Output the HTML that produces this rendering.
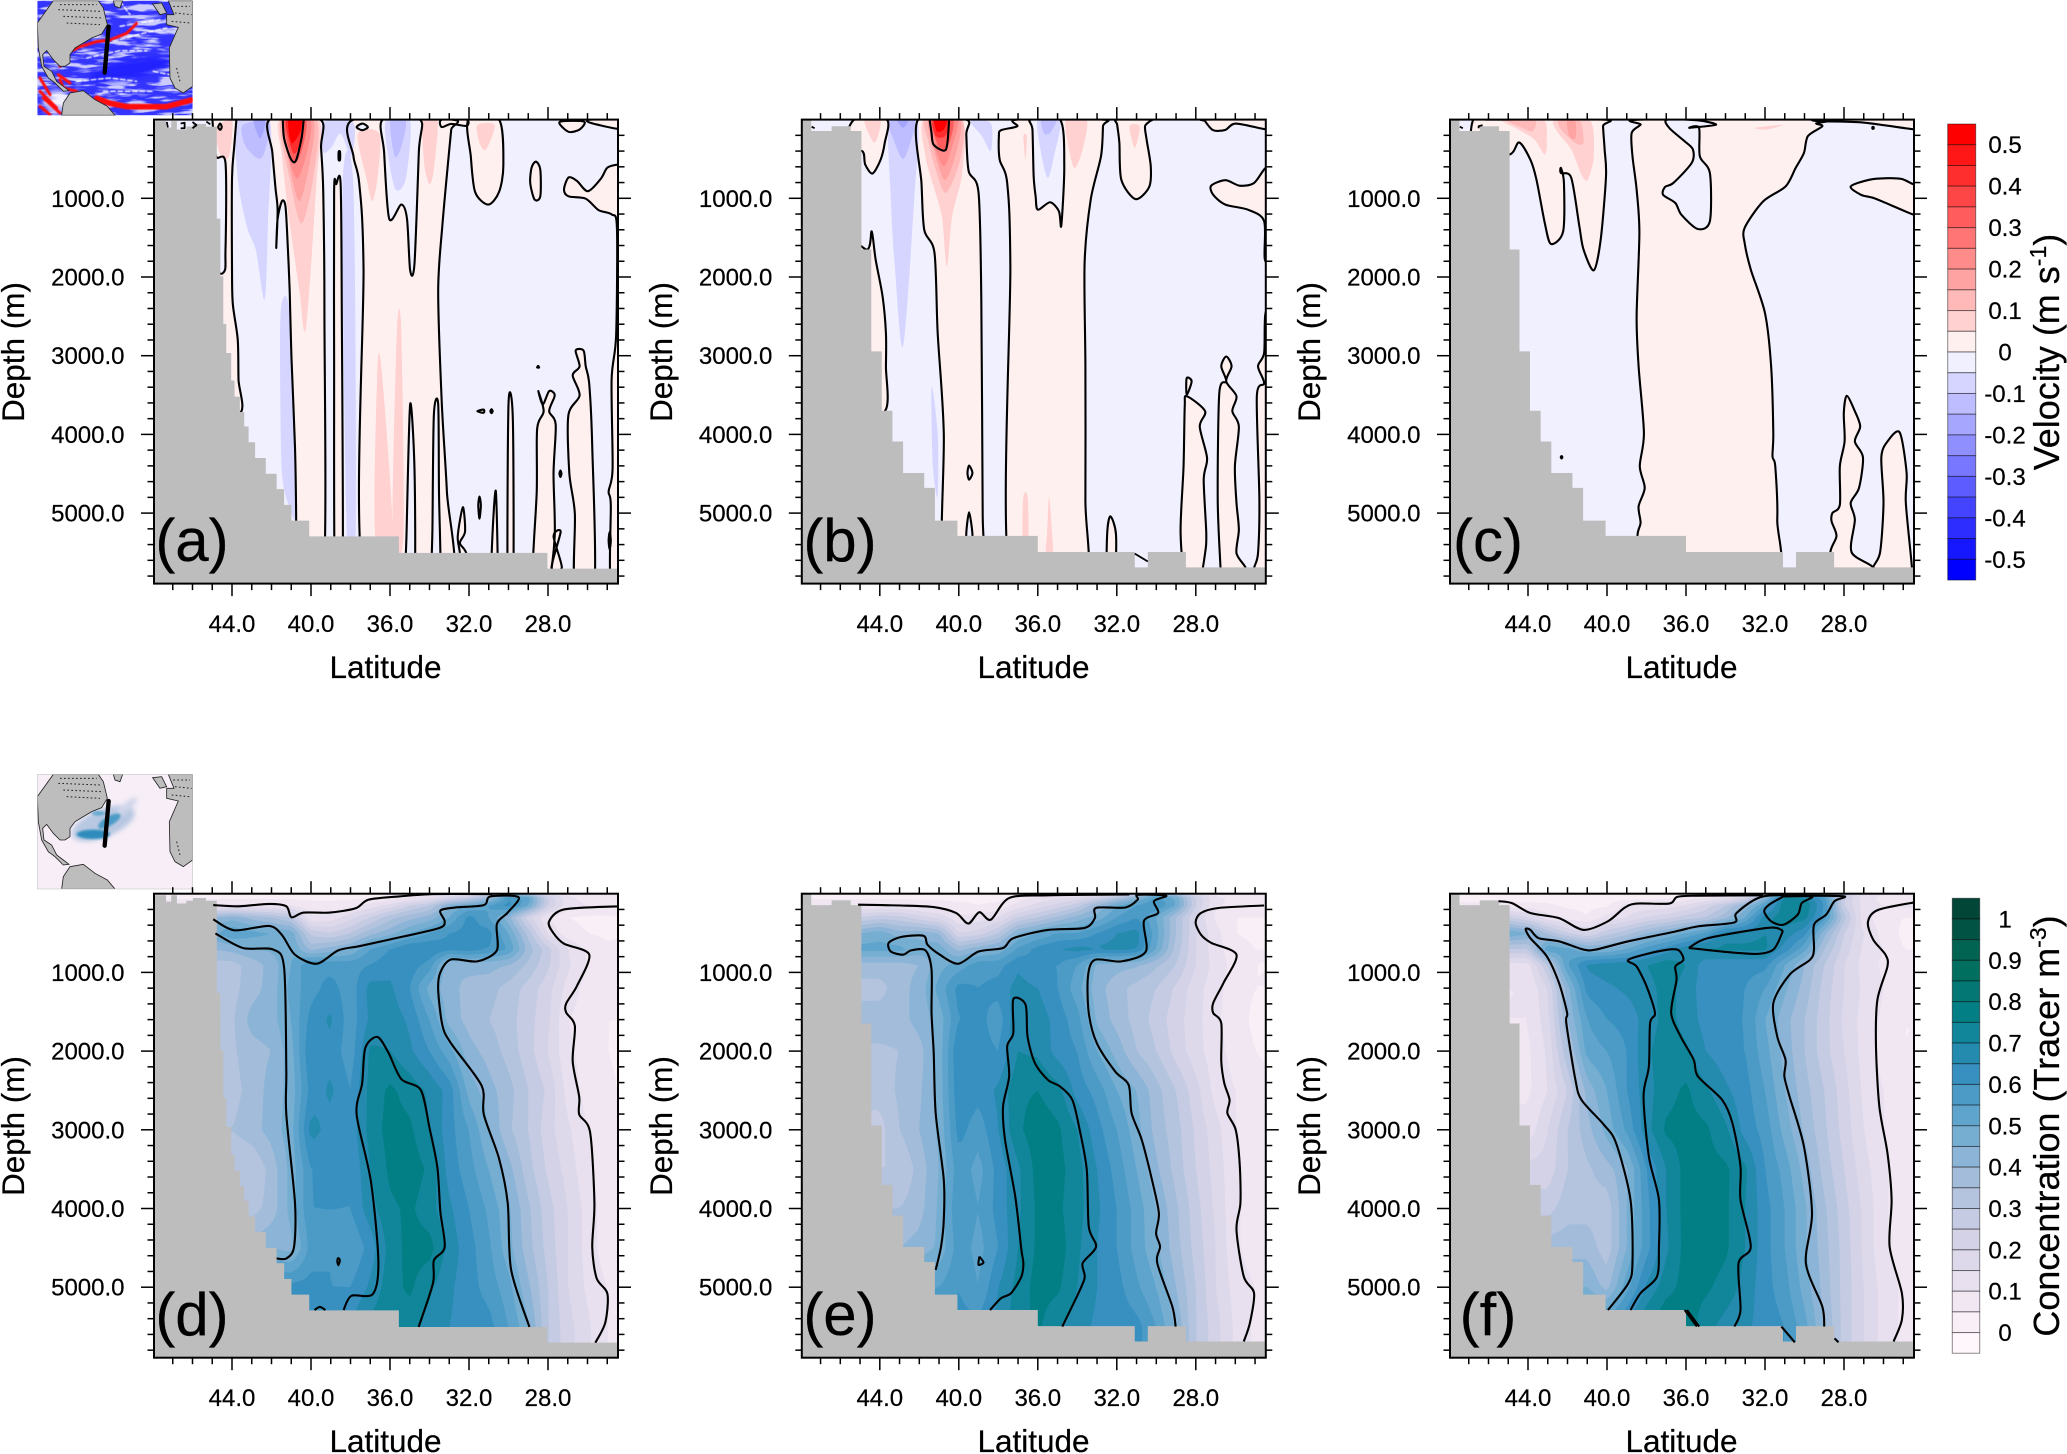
<!DOCTYPE html>
<html lang="en">
<head>
<meta charset="utf-8">
<title>Velocity and tracer concentration sections</title>
<style>
html,body{margin:0;padding:0;background:#fff;width:2067px;height:1454px;overflow:hidden}
svg{display:block}
text{font-family:"Liberation Sans",sans-serif;fill:#000;stroke:#000;stroke-width:.22}
</style>
</head>
<body>
<svg id="chart" width="2067" height="1454" viewBox="0 0 2067 1454">
<defs>
<filter id="blur-a" x="-30%" y="-30%" width="160%" height="160%"><feGaussianBlur stdDeviation="7"/></filter>
<filter id="blur-b" x="-30%" y="-30%" width="160%" height="160%"><feGaussianBlur stdDeviation="3"/></filter>
<filter id="blur-c" x="-5%" y="-5%" width="110%" height="110%"><feGaussianBlur stdDeviation="1.6"/></filter>
<filter id="streaks" x="0" y="0" width="100%" height="100%"><feTurbulence type="fractalNoise" baseFrequency="0.012 0.07" numOctaves="3" seed="4"/><feColorMatrix type="matrix" values="0 0 0 0 1  0 0 0 0 1  0 0 0 0 1  5 0 0 0 -2.3"/></filter>
<clipPath id="map-clip"><rect x="52" y="28" width="466" height="344"/></clipPath>
<g id="map-land">
<path d="M100,28 L235,28 L250,50 L262,100 L245,128 L215,140 L190,155 L165,170 L150,190 L150,215 L135,225 L120,225 L100,205 L80,178 L68,190 L72,225 L95,240 L110,270 L130,285 L147,298 L130,300 L105,275 L85,260 L65,225 L55,170 L52,95 Z"/>
<path d="M280,28 L308,28 L300,50 L285,45 Z"/>
<path d="M125,372 L130,335 L150,305 L190,298 L225,325 L262,345 L285,372 Z"/>
<path d="M445,28 L518,28 L518,285 L490,305 L465,290 L450,260 L448,170 L475,108 L440,100 L440,70 L462,70 Z"/>
<path d="M398,38 L425,35 L440,65 L420,70 Z"/>
<path d="M120,40 L230,40 M115,55 L240,60 M130,75 L250,80 M140,95 L240,100 M460,45 L510,45 M465,65 L515,70 M455,90 L510,95 M470,230 L480,270" fill="none" stroke="#222" stroke-width="3" stroke-dasharray="5 7"/>
</g>
</defs>

<g transform="translate(20,-8.67) scale(0.3333)">
<g clip-path="url(#map-clip)">
<rect x="52" y="28" width="466" height="344" fill="#3434ff"/>
<rect x="52" y="28" width="466" height="344" filter="url(#streaks)" opacity="0.75"/>
<g filter="url(#blur-a)">
<ellipse cx="330" cy="235" rx="125" ry="28" transform="rotate(-12 330 235)" fill="#2222ff"/>
<ellipse cx="110" cy="330" rx="40" ry="35" fill="#ffffff" opacity="0.7"/>
</g>
<g filter="url(#blur-c)">
<g fill="none" stroke="#fff" stroke-width="4" stroke-dasharray="14 8" stroke-linecap="round">
<path d="M200,200 L300,178 L380,178"/><path d="M280,150 L360,128 L440,110"/><path d="M300,105 L420,85"/>
<path d="M170,270 L270,260 L350,270"/><path d="M300,30 L330,70"/><path d="M400,240 L500,260"/><path d="M250,300 L400,300"/>
</g>
<g fill="none" stroke="#ff1010" stroke-linecap="round" stroke-linejoin="round">
<path d="M120,225 L140,186 L180,166 L230,151 L270,146 L320,126 L350,96" stroke-width="9"/>
<path d="M230,321 L270,336 L320,346 L440,346 L515,326" stroke-width="17"/>
<path d="M60,260 L90,310 M60,300 L110,350 M120,265 L130,290 L170,300 M70,320 L120,365 M60,345 L90,370 M115,250 L150,275" stroke-width="9"/>
</g>
</g>
<use href="#map-land" fill="#bdbdbd" stroke="#222" stroke-width="2.5"/>
<path d="M266,106 L254,244" stroke="#000" stroke-width="13" stroke-linecap="round"/>
</g>
</g>

<g transform="translate(20,765) scale(0.3333)">
<g clip-path="url(#map-clip)">
<rect x="52" y="28" width="466" height="344" fill="#f7eef7"/>
<g filter="url(#blur-a)">
<ellipse cx="250" cy="175" rx="100" ry="42" transform="rotate(-22 250 175)" fill="#b8c8e2"/>
<ellipse cx="320" cy="125" rx="40" ry="12" transform="rotate(-40 320 125)" fill="#d0d6ea"/>
</g>
<g filter="url(#blur-b)">
<ellipse cx="220" cy="208" rx="50" ry="14" fill="#2f8cbc"/>
<ellipse cx="268" cy="168" rx="38" ry="14" transform="rotate(-30 268 168)" fill="#4b9bc6"/>
<ellipse cx="235" cy="145" rx="20" ry="7" fill="#67a9cf"/>
</g>
<use href="#map-land" fill="#bdbdbd" stroke="#222" stroke-width="2.5"/>
<path d="M266,108 L254,242" stroke="#000" stroke-width="13" stroke-linecap="round"/>
</g>
<rect x="52" y="28" width="466" height="344" fill="none" stroke="#ccc" stroke-width="2"/>
</g>

<g id="plots"></g>

<g id="static-labels">
<text x="192" y="561" font-size="60" text-anchor="middle">(a)</text>
<text x="840" y="561" font-size="60" text-anchor="middle">(b)</text>
<text x="1488" y="561" font-size="60" text-anchor="middle">(c)</text>
<text x="192" y="1335" font-size="60" text-anchor="middle">(d)</text>
<text x="840" y="1335" font-size="60" text-anchor="middle">(e)</text>
<text x="1488" y="1335" font-size="60" text-anchor="middle">(f)</text>

<text transform="translate(24,352) rotate(-90)" font-size="31.5" text-anchor="middle">Depth (m)</text>
<text transform="translate(672,352) rotate(-90)" font-size="31.5" text-anchor="middle">Depth (m)</text>
<text transform="translate(1320,352) rotate(-90)" font-size="31.5" text-anchor="middle">Depth (m)</text>
<text transform="translate(24,1126) rotate(-90)" font-size="31.5" text-anchor="middle">Depth (m)</text>
<text transform="translate(672,1126) rotate(-90)" font-size="31.5" text-anchor="middle">Depth (m)</text>
<text transform="translate(1320,1126) rotate(-90)" font-size="31.5" text-anchor="middle">Depth (m)</text>

<text x="385.5" y="678" font-size="31.5" text-anchor="middle">Latitude</text>
<text x="1033.5" y="678" font-size="31.5" text-anchor="middle">Latitude</text>
<text x="1681.5" y="678" font-size="31.5" text-anchor="middle">Latitude</text>
<text x="385.5" y="1452" font-size="31.5" text-anchor="middle">Latitude</text>
<text x="1033.5" y="1452" font-size="31.5" text-anchor="middle">Latitude</text>
<text x="1681.5" y="1452" font-size="31.5" text-anchor="middle">Latitude</text>

<text transform="translate(2059,352) rotate(-90)" font-size="36" text-anchor="middle">Velocity (m s<tspan font-size="23" dy="-13">-1</tspan><tspan dy="13">)</tspan></text>
<text transform="translate(2059,1126) rotate(-90)" font-size="36" text-anchor="middle">Concentration (Tracer m<tspan font-size="23" dy="-13">-3</tspan><tspan dy="13">)</tspan></text>
</g>
</svg>

<script>
/* ---------- axis values ---------- */
const latTicks = [44, 40, 36, 32, 28];
const latTickLabels = ['44.0', '40.0', '36.0', '32.0', '28.0'];
const latMinorTicks = [47, 46, 45, 43, 42, 41, 39, 38, 37, 35, 34, 33, 31, 30, 29, 27, 26, 25];
const depthTicks = [1000, 2000, 3000, 4000, 5000];
const depthTickLabels = ['1000.0', '2000.0', '3000.0', '4000.0', '5000.0'];
const depthMinorTicks = [200, 400, 600, 800, 1200, 1400, 1600, 1800, 2200, 2400, 2600, 2800, 3200, 3400, 3600, 3800, 4200, 4400, 4600, 4800, 5200, 5400, 5600, 5800];

/* ---------- colour bars ---------- */
const velocityColors = ['#0000ff','#1717ff','#2d2dff','#4444ff','#5c5cff','#7777ff','#8f8fff','#a6a6ff','#bdbdff','#d5d5ff','#f0f0ff','#fff0f0','#ffd1d1','#ffb9b9','#ffa2a2','#ff8b8b','#ff7474','#ff5d5d','#ff4646','#ff2e2e','#ff1717','#ff0000'];
const velocityBarValues = [0.5, 0.4, 0.3, 0.2, 0.1, 0, -0.1, -0.2, -0.3, -0.4, -0.5];
const velocityBarLabels = ['0.5', '0.4', '0.3', '0.2', '0.1', '0', '-0.1', '-0.2', '-0.3', '-0.4', '-0.5'];
const tracerColors = ['#fff7fb','#f8eff7','#f1e7f3','#e8e0ef','#ddd9eb','#d3d2e7','#c4cbe3','#b4c4df','#a3bcda','#8bb4d6','#76aed2','#5ea4cc','#4b9bc6','#3790c0','#258bae','#11859a','#027f85','#027773','#016f60','#016351','#015443','#014636'];
const tracerBarValues = [1, 0.9, 0.8, 0.7, 0.6, 0.5, 0.4, 0.3, 0.2, 0.1, 0];
const tracerBarLabels = ['1', '0.9', '0.8', '0.7', '0.6', '0.5', '0.4', '0.3', '0.2', '0.1', '0'];

/* ---------- land masks: latitude edges and the depth of each stair ---------- */
const landTopLatAD = [47.34, 47.08, 46.79, 46.31, 45.98, 45.32, 44.77];
const landTopDepAD = [20, 100, 20, 125, 90, 55, 90];
const landLatAD = [44.77, 44.59, 44.44, 44.29, 44.04, 43.87, 43.6, 43.38, 43.16, 42.83, 42.29, 41.74, 41.36, 40.99, 40.09, 35.55, 28.03, 24];
const landDepAD = [1260, 1990, 2595, 2965, 3315, 3520, 3715, 3900, 4100, 4300, 4500, 4695, 4895, 5095, 5295, 5505, 5705, 5705];
const landTopLatOther = [47.47, 46.44, 45.47, 44.93];
const landTopDepOther = [0, 145, 85, 145];
const landLatOther = [44.93, 44.43, 43.9, 43.36, 42.82, 41.75, 41.21, 40.07, 36.0, 31.09, 30.43, 28.5, 24];
const landDepOther = [1650, 2945, 3700, 4090, 4490, 4680, 5095, 5290, 5495, 5690, 5495, 5690, 5690];

/* ---------- velocity panels: zero contours (lat, depth pairs) ---------- */
const zeroPosA = [
[43.78,0,43.78,10,43.89,350,44,750,44,1890,43.96,2340,43.71,2795,43.67,3305,43.6,3730,45.87,3730,45.87,1955,44.48,1955,44.33,1660,44.33,550,44.81,465,44.99,10,44.99,0],
[42.09,0,41.96,410,41.8,865,41.69,1150,41.76,1630,41.69,1260,41.47,1035,41.3,1090,41.21,1430,41.08,2170,40.99,3020,40.81,4160,40.75,5095,40.75,5900,39.38,5900,39.32,2455,39.38,920,39.49,350,39.54,0],
[38.79,5900,38.83,3020,38.83,920,38.72,820,38.5,820,38.44,2455,38.4,5900],
[37.85,0,37.85,465,37.56,805,37.34,1885,37.29,5900,32.97,5900,33.12,4725,33.38,3590,33.56,2170,33.34,1320,33.01,410,32.9,125,32.86,0],
[32.02,0,31.91,465,31.69,920,31.03,1080,30.48,920,30.26,580,30.48,0],
[33.38,95,32.9,55,32.13,80,32.13,0,33.38,0],
[28.61,535,28.39,635,28.39,975,28.68,1015,28.9,805,28.83,610],
[24.44,570,24.99,610,25.32,750,25.98,910,26.53,780,26.96,735,27.19,890,26.96,975,26.09,1005,25.44,1150,24.78,1205,24.51,1375,24.55,2740,24.78,3305,24.73,4440,24.93,4725,24.82,4895,24.82,5900,24,5900,24,570],
[27.41,30,26.96,155,26.4,125,26.18,25],
[25.86,40,24.55,115,24,120,24,0,25.86,0],
[32.46,5520,32.57,5295,32.31,4925,32.2,5235,32.46,5380,32.13,5520,32.13,5900,32.46,5900],
[30.86,5900,30.81,5265,30.64,4725,30.55,5900],
[30,3618,29.78,3815,29.76,5900,30.04,5900],
[28.49,3450,28.27,3620,27.94,3450,27.66,3505,27.94,3705,27.61,3875,27.72,4495,27.66,5295,28,5900,28.77,5900,28.57,4725,28.55,3930,28.22,3705],
[27.72,5295,27.3,5690,27.82,5690,27.36,5240],
[26.6,2935,26.2,2935,26.09,3135,25.91,3365,25.76,4160,25.65,5900,26.64,5900,26.64,5010,26.92,4495,26.97,3760,26.4,3505,26.75,3250,26.4,3135],
[31.58,3705,31.26,3685,31.26,3725],
[30.92,3705,30.86,3680,30.8,3705,30.86,3730],
[27.42,4500,27.37,4460,27.32,4500,27.37,4540],
[31.53,4900,31.47,4790,31.4,4900,31.47,5070],
[24.93,5350,24.88,5240,24.82,5350,24.88,5460],
[28.55,3150,28.5,3130,28.45,3150],
[44.7,95,44.6,50,44.52,95,44.6,130]
];
const zeroNegA = [
[36.37,0,36.3,410,36.04,1260,35.43,1080,35.14,1260,34.98,1915,34.76,1830,34.54,410,34.48,0],
[34.98,3618,35.16,5235,35.21,5900,34.76,5900,34.76,4440],
[33.56,3618,33.78,3760,33.85,5180,33.89,5900,33.45,5900,33.52,4725],
[37.69,95,37.4,50,37.12,95,37.4,135],
[38.6,410,38.53,410,38.53,510,38.6,510]
];
const bandsA = [
[-0.07,[43.71,0,42.09,0,42.18,1320,42.35,2285,42.79,1660,43.23,1375,43.71,750]],
[-0.12,[43.45,70,42.13,40,42.35,410,42.68,495,43.34,325]],
[-0.17,[42.9,10,42.31,10,42.57,240]],
[-0.07,[41.54,2455,41.08,2455,40.75,4725,40.81,5095,41.36,4695,41.52,4160]],
[-0.07,[39.38,40,37.85,40,37.96,465,38.5,180,38.95,350,39.38,410]],
[-0.07,[38.4,865,37.85,865,37.74,5295,38.18,5295]],
[-0.07,[36.2,10,34.99,10,35.2,750,35.71,890,36.09,465]],
[-0.12,[35.98,10,35.2,10,35.43,350,35.76,465]],
[0.07,[44.84,125,44,10,44.15,465,44.55,465]],
[0.07,[37.63,180,36.53,180,36.64,750,36.9,1035,37.19,750]],
[0.07,[34.33,10,33.6,10,33.78,635,34,820,34.26,580]],
[0.07,[31.58,70,30.7,70,31.14,380,31.47,295]],
[0.07,[36.64,3190,36.42,3190,35.87,5295,36.75,5295]],
[0.07,[35.65,2680,35.43,2680,35.32,5295,35.87,5295]],
[0.07,[41.58,0,39.6,0,39.71,750,40.26,2650,40.59,2170,41.14,1205,41.47,465]],
[0.12,[41.52,0,39.71,0,39.89,750,40.48,1320,41.08,750]],
[0.17,[41.43,0,39.89,0,40.04,520,40.59,1035,41.14,520]],
[0.22,[41.36,0,40.04,0,40.2,410,40.7,750,41.21,410]],
[0.32,[41.32,0,40.26,0,40.42,350,40.81,550,41.21,295]],
[0.42,[41.25,0,40.37,0,40.55,295,40.86,435,41.14,240]],
[0.5,[41.14,0,40.48,0,40.59,180,40.99,295]]
];
const linesA = [
[41.43,0,41.36,240,41.03,495,40.77,525,40.48,240,40.37,0]
];
const overA = [
[47.3,30,47.25,100],
[46.6,50,46.4,40,46.4,110,46.6,110],
[46,30,45.8,70,46,110],
[45.3,25,45.1,60]
];

const zeroPosB = [
[45.3,0,43.65,0,43.75,295,43.96,510,44.37,685,44.74,570,44.89,400,45.82,400],
[44.41,1420,44.21,1780,43.86,2245,43.69,2710,43.69,3135,43.75,3705,45.82,3705,45.82,1650,44.62,1650],
[42.06,0,41.89,805,41.75,1400,41.23,1695,41.07,2710,40.76,3985,40.76,5890,38.73,5890,38.79,5040,38.86,2290,39,930,39.5,655,39.62,190,39.62,0],
[37.04,0,37.04,85,37.86,135,37.97,210,37.93,510,37.55,805,37.39,1865,37.39,5890,33.67,5890,33.59,4830,33.59,3135,33.63,1820,33.32,1015,32.8,465,32.7,85,32.7,0],
[31.98,65,31.87,295,31.77,765,31.05,1010,30.36,855,30.28,595,30.49,255,30.57,85,30.32,20,30.32,0,31.98,0],
[27.53,20,27.12,135,26.5,130,25.98,50,24.54,120,24,120,24,0,27.53,0],
[24.47,615,25.05,805,25.78,840,26.5,770,27.22,840,27.12,955,26.5,1080,25.36,1145,24.54,1290,24.5,1780,24,1780,24,615],
[28.46,3285,28.21,3325,28.46,3495],
[28.46,3515,27.53,3705,27.8,3900,27.43,4300,27.6,4575,27.47,5255,27.53,5510,27.84,5890,28.5,5890,28.77,5255,28.62,4405,28.56,3645],
[26.46,3010,26.19,3135,26.46,3325,25.94,3515,26.15,3705,25.82,3900,26.02,4405,25.94,4870,25.82,5210,25.94,5510,25.47,5700,25.47,5890,26.75,5890,26.75,5700,26.89,4830,26.81,3475,26.46,3325,26.71,3135],
[24.47,2460,24.54,2965,24.85,3135,24.54,3350,24.91,3515,24.78,4830,24.85,5510,25.05,5700,25.05,5890,24,5890,24,2460],
[32.49,5890,32.49,5275,32.33,5040,32.04,5275,32.12,5890]
];
const zeroNegB = [
[36.36,0,36.27,130,36.21,720,36.11,975,36,1145,35.38,1050,34.93,1165,34.81,1345,34.66,590,34.87,0],
[39.62,5300,39.48,4990,39.31,5300],
[39.48,4395,39.31,4490,39.48,4575,39.56,4490]
];
const bandsB = [
[-0.07,[43.5,0,42.1,0,42.26,1015,42.82,2880,43.24,1865,43.44,1015]],
[-0.12,[43.55,0,42.26,0,42.41,255,42.82,500,43.3,255]],
[-0.17,[43.13,0,42.55,0,42.82,105]],
[-0.07,[39.41,20,38.38,45,38.38,400,38.83,210]],
[-0.07,[36,0,34.87,0,35.18,465,35.49,740,35.8,465]],
[-0.12,[35.8,0,35.07,0,35.38,170,35.69,170]],
[-0.07,[41.38,3390,41.07,3985,41.07,4790,41.31,4405]],
[0.07,[44.79,0,43.96,0,44.27,295]],
[0.07,[34.56,0,33.52,0,33.73,380,34.14,615,34.45,340]],
[0.07,[31.36,85,30.84,85,31.09,360]],
[0.07,[36.73,4790,36.52,4790,36.48,5300,36.77,5300]],
[0.07,[35.43,4790,35.28,5255,35.24,5495,35.59,5495,35.53,5255]],
[0.07,[36.73,210,36.56,210,36.62,510]],
[0.07,[41.79,0,39.83,0,39.83,680,40.34,1230,40.61,1865,40.86,1230,41.38,765,41.69,465]],
[0.12,[41.69,0,39.83,0,39.93,510,40.65,930,41.17,635,41.52,295]],
[0.17,[41.52,0,39.93,0,40.14,425,40.69,765,41.17,465]],
[0.22,[41.44,0,40.07,0,40.34,340,40.76,595,41.23,340]],
[0.32,[41.38,0,40.28,0,40.55,340,40.96,380]],
[0.42,[41.31,0,40.45,0,40.69,210,41.17,210]],
[0.5,[41.23,0,40.61,0,40.76,125,41.11,150]]
];
const linesB = [
[41.48,0,41.38,170,41.27,320,40.65,380,40.49,0]
];
const overB = [
[31.09,5515,30.43,5615],
[47.45,90,47.3,110]
];

const zeroPosC = [
[45.94,0,40.16,0,40.2,85,40.12,380,40.05,720,40.32,1525,40.67,1915,41.19,1650,41.4,1355,41.81,740,42.33,680,42.33,615,42.18,805,42.22,1420,42.84,1580,43.15,1315,43.57,765,43.88,510,44.45,290,44.95,445,46.77,445,46.77,0],
[38.3,0,38.3,65,38.75,170,38.71,465,38.5,890,38.36,1440,38.5,2500,38.4,3135,38.13,3985,38.34,4405,38.09,4680,38.4,4915,38.3,5125,38.46,5295,38.46,5890,31.69,5890,31.38,5085,31.48,4405,31.62,4280,31.58,3985,31.69,3135,32,2460,32.72,1905,33.03,1570,33.03,1375,32.1,1040,30.96,850,30.45,615,30.03,425,29.83,210,29.1,85,29.41,50,29.21,0],
[29.21,20,27.14,35,24.45,125,24,125,24,0,29.21,0],
[27.66,850,26.73,765,25.8,745,25.07,755,24.45,825,24,825,24,1210,24.45,1210,25.69,1080,26.52,995,27.14,955],
[27.86,3510,27.45,3705,27.18,3900,27.45,4090,27.04,4290,27.24,4680,27.66,4870,27.45,5085,27.62,5495,26.52,5690,26.52,5890,28.69,5890,28.69,5495,28.38,5290,28.63,5105,28.59,5000,28.21,4895,28.21,4405,27.97,4090,28.01,3730],
[26.52,5690,26.17,5495,26,4870,26.11,4290,25.8,4090,25.18,3975,24.83,4490,24.87,4870,24.56,5690,24.56,5890,26.52,5890],
[42.3,4275,42.26,4290,42.3,4305,42.34,4290],
[26.56,95,26.5,95,26.5,115,26.56,115]
];
const zeroNegC = [
[36.95,0,36.85,105,36.07,275,35.65,380,35.71,550,36.64,805,37.06,855,37.16,955,36.54,1060,36.23,1210,35.4,1390,34.79,1290,34.79,680,35.3,465,35.34,105,35.82,105,34.48,65,35.4,10]
];
const bandsC = [
[0.07,[45.32,0,43.26,0,43.05,255,43.15,445,43.67,255,44.5,125]],
[0.07,[42.64,0,40.88,0,40.67,465,40.98,765,41.29,700,41.81,380,42.53,150]],
[0.07,[32.51,105,31.07,65,31.89,125]],
[0.12,[45.12,0,43.67,0,43.77,150,44.29,105]],
[0.12,[42.43,0,41.4,0,41.19,295,41.6,295,42.33,125]],
[0.17,[42.02,20,41.6,20,41.6,235,41.91,210]]
];
const linesC = [];
const overC = [
[47.45,90,47.3,110],
[46.5,110,46.5,85,46.3,70]
];

/* ---------- tracer fields: percent of unit concentration on a lat-depth grid ---------- */
const fieldLats = [48,47,46,45,44,43,42,41,40,39,38,37,36,35,34,33,32,31,30,29,28,27,26,25,24];
const fieldDepths = [0,60,150,300,500,700,900,1200,1600,2000,2500,3000,3500,4000,4500,5000,5500,5900];
const fieldD = [
[3,3,3,3,3,3,3,3,3,3,3,3,4,6,8,10,12,25,45,35,18,8,6,6,6],
[4,4,4,4,4,4,4,4,4,4,4,5,7,10,15,22,30,40,60,55,25,12,8,7,7],
[10,10,10,11,11,11,11,10,7,7,8,12,17,25,30,45,50,55,62,50,25,12,10,10,10],
[40,40,40,40,43,38,35,30,10,12,18,25,33,38,42,50,62,55,42,22,10,5,4,4,5],
[48,48,48,48,55,52,50,48,28,25,30,38,43,50,55,60,62,62,50,33,14,7,5,4,5],
[40,40,40,40,42,45,46,50,38,42,45,55,60,65,65,62,63,60,55,38,27,15,9,6,6],
[33,33,33,33,33,37,42,50,60,58,58,60,63,63,58,40,42,42,40,34,26,16,10,5,5],
[30,30,30,30,33,38,42,52,58,62,57,67,66,60,48,42,38,37,33,28,22,13,8,6,5],
[30,30,30,30,34,42,43,50,62,66,57,66,68,64,55,43,38,35,32,27,21,10,8,5,5],
[30,30,30,30,34,38,40,48,65,63,57,71,70,66,60,52,42,38,33,27,20,11,8,5,4],
[30,30,30,30,33,37,42,47,62,66,60,72,76,73,69,63,48,42,37,30,24,13,8,6,4],
[35,35,35,35,35,38,42,48,67,63,62,72,77,76,70,62,55,45,36,30,22,16,10,7,5],
[30,30,30,30,30,30,37,47,60,63,60,70,76,78,74,63,57,50,42,32,24,18,11,7,5],
[33,33,33,33,33,33,37,47,60,60,60,68,74,76,72,66,60,54,46,36,27,20,13,7,5],
[42,42,42,42,42,42,45,43,57,60,55,62,72,77,77,68,62,56,47,37,28,20,13,7,5],
[62,62,62,62,62,62,62,62,62,60,60,66,73,76,71,66,62,58,52,41,30,20,14,10,6],
[62,62,62,62,62,62,62,62,62,62,66,72,74,72,68,65,63,62,55,46,30,22,16,10,7],
[62,62,62,62,62,62,62,62,62,62,66,72,74,72,68,65,63,62,55,46,30,22,16,10,7]
];
const fieldE = [
[3,3,3,3,3,3,3,3,3,3,3,3,5,7,8,10,14,30,45,35,18,8,6,6,6],
[4,4,4,4,4,4,4,4,4,4,4,8,12,15,18,25,35,45,58,50,25,12,8,7,7],
[10,10,10,10,10,10,9,8,6,5,6,12,17,22,28,40,50,55,60,50,25,10,10,10,10],
[25,25,25,25,28,27,22,18,11,12,15,25,30,36,42,47,55,60,50,35,20,9,5,5,5],
[45,45,45,45,48,42,43,40,20,22,30,45,50,55,55,60,65,67,52,35,20,12,5,4,4],
[52,52,52,52,52,52,48,48,38,43,46,56,62,65,67,66,67,66,50,33,20,12,7,5,5],
[38,38,38,38,38,38,40,48,52,58,58,64,60,60,55,44,42,41,36,30,20,13,8,5,5],
[33,33,33,33,33,38,42,52,62,60,62,67,65,60,52,42,37,33,30,24,17,12,7,5,5],
[38,38,38,38,38,38,42,47,60,62,57,70,68,63,57,44,38,33,28,22,17,11,7,4,4],
[34,34,34,34,34,35,38,47,65,62,60,70,69,63,60,50,43,35,30,23,17,12,8,5,4],
[32,32,32,32,32,36,39,47,64,62,66,74,75,72,63,58,50,45,37,30,22,13,10,7,5],
[28,28,28,28,28,35,40,46,62,57,65,74,78,76,70,62,55,47,38,32,24,17,10,7,5],
[30,30,30,30,30,30,37,45,58,53,62,69,77,77,72,65,58,50,41,33,25,18,11,7,5],
[35,35,35,35,35,35,38,46,60,55,62,69,76,76,72,66,60,53,45,36,27,19,11,7,5],
[40,40,40,40,40,40,42,46,58,53,60,70,76,78,71,65,60,53,46,37,28,20,11,7,5],
[55,55,55,55,55,55,55,55,60,55,65,72,77,76,70,65,62,56,50,40,30,20,13,10,7],
[62,62,62,62,62,62,62,62,62,62,67,73,76,71,67,64,63,62,55,44,30,22,14,9,7],
[62,62,62,62,62,62,62,62,62,62,67,73,76,71,67,64,63,62,55,44,30,22,14,9,7]
];
const fieldF = [
[2,2,2,2,2,2,2,2,2,2,2,2,4,6,8,12,25,55,55,45,30,14,10,9,9],
[3,3,3,3,3,3,3,3,3,3,3,4,7,10,14,22,45,74,72,58,25,12,8,7,8],
[7,7,7,7,7,6,4,4,4,12,12,12,16,22,30,42,55,74,74,60,25,13,10,11,12],
[25,25,25,25,20,12,8,5,12,15,20,23,27,30,38,50,68,73,72,58,32,12,7,5,5],
[50,50,50,50,46,34,25,20,28,33,40,45,50,56,68,68,70,68,62,42,25,15,8,4,4],
[30,30,30,30,30,55,52,45,45,50,57,62,68,71,71,71,71,63,52,35,23,14,10,5,5],
[13,13,13,13,13,30,55,66,68,68,70,73,70,62,62,62,62,50,40,30,20,13,9,5,5],
[10,10,10,10,10,20,43,62,64,66,68,72,68,62,62,60,55,46,38,28,20,14,10,6,5],
[10,10,10,10,10,18,40,55,60,62,67,72,68,63,60,60,50,42,35,27,19,13,9,5,5],
[9,9,9,9,9,16,34,52,55,60,69,73,71,65,62,60,52,43,35,27,20,13,8,5,5],
[9,9,9,9,9,15,25,42,50,60,68,73,76,71,66,62,55,45,37,30,22,14,10,7,5],
[12,12,12,12,12,20,30,38,47,56,68,76,77,76,71,63,58,48,39,31,23,15,10,7,5],
[22,22,22,22,22,22,30,34,38,44,60,70,77,77,76,71,60,53,43,33,25,17,11,7,5],
[28,28,28,28,28,28,33,33,32,45,58,70,77,78,76,70,62,55,46,36,27,19,11,7,5],
[38,38,38,38,38,38,38,38,32,45,58,69,77,78,76,70,62,55,46,37,28,19,11,7,5],
[45,45,45,45,45,45,45,45,38,53,66,73,77,76,73,68,62,57,48,38,28,20,13,9,6],
[60,60,60,60,60,60,60,60,60,67,75,80,78,72,68,66,63,60,52,40,28,20,13,9,7],
[60,60,60,60,60,60,60,60,60,67,75,80,78,72,68,66,63,60,52,40,28,20,13,9,7]
];

/* ---------- tracer contour lines (lat, depth pairs) ---------- */
const contoursD = [
[44.95,145,43.67,160,42.13,130,41.25,160,40.99,300,40.37,240,39.05,240,37.74,185,37.08,75,35.54,35,33.78,5,30.81,5],
[44.95,325,43.89,465,42.13,410,41.47,525,40.81,775,39.71,890,38.62,720,37.52,665,35.98,580,33.56,440,33.23,355,33.45,215,32.68,175,31.25,145,30.92,35,29.49,45,30.04,240,30.59,385,30.59,720,31.58,860,32.9,835,33.45,1000,33.56,1225,33.34,1680,32.9,1905,31.36,2440,31.25,2805,30.48,3365,30.04,3930,29.87,4775,28.94,5505],
[44.84,505,43.45,690,41.91,710,41.36,945,41.25,2240,41.25,2805,40.81,3930,40.86,4490,41.25,4635,41.74,4635],
[38.35,5290,37.96,5110,36.86,5085,36.59,4660,36.97,3650,37.69,2805,37.41,2410,37.25,1960,36.64,1820,36.09,2015,35.43,2355,34.44,2495,34,2975,33.6,3480,33.45,4040,33.23,4490,33.78,4660,33.82,4945,34.55,5505],
[24.44,160,27.19,200,27.95,355,27.74,495,27.19,635,25.91,775,26.53,1170,27.08,1395,27.08,1510,26.64,1680,26.75,2130,26.42,2580,26.42,2805,25.87,3030,25.65,3930,25.76,4490,25.54,4885,24.99,5085,25.1,5450,25.6,5705],
[38.68,4660,38.62,4630,38.54,4660,38.62,4720,38.68,4660],
[39.82,5290,39.55,5250,39.27,5290]
];
const contoursE = [
[45.1,140,42.93,150,41.27,170,40.14,245,39.52,380,38.96,235,38.38,330,37.45,55,35.49,20,31.36,10],
[41.17,4780,40.9,4485,40.76,4145,40.76,3635,41.17,2790,41.27,2025,41.38,1515,41.38,965,41.69,720,42.41,720,42.82,775,43.44,735,43.55,625,42.93,550,41.79,535,41.58,650,40.96,775,40.03,890,39,735,37.76,690,37.24,565,35.49,460,33.63,435,33.11,310,33.05,180,31.56,175,30.94,75,30.94,15,29.5,25,30.12,95,29.91,245,30.63,350,30.53,735,31.77,860,33.11,840,33.46,1050,33.42,1515,33.01,1900,32.08,2260,31.4,2430,31.25,2790,30.74,3125,30.22,3635,29.87,4060,30.01,4315,29.81,4485,29.95,4695,29.19,5245,29.02,5500],
[38.42,5290,37.86,5140,37.35,5075,36.83,4865,36.73,4695,36.83,4525,37.14,3850,37.66,3125,37.76,2705,37.45,2320,37.55,1940,37.24,1770,37.24,1340,36.62,1410,36.52,1815,36.15,2150,35.49,2365,34.87,2450,34.25,2620,33.88,3000,33.52,3510,33.42,4230,33.05,4485,33.73,4695,33.63,4885,34.14,5180,34.76,5500],
[24.54,150,26.81,180,27.74,245,28.01,365,27.74,520,27.22,625,25.94,775,26.6,1135,27.12,1390,27.12,1515,26.71,1645,26.71,2130,26.56,2405,26.29,2620,26.4,2790,25.98,3000,25.78,3425,25.74,3930,25.94,4270,25.57,4865,25.05,5075,25.26,5455,25.57,5690],
[38.96,4610,38.75,4685,39,4715,38.96,4610]
];
const contoursF = [
[45.49,95,44.81,120,43.88,245,42.43,310,41.19,460,39.95,350,39.12,180,38.5,125,36.85,125,36.44,40,35.4,25,32.1,20],
[39.95,5290,38.92,4950,38.71,4695,38.81,3890,39.54,3170,40.16,2935,41.29,2620,41.6,2365,42.06,1645,42.02,1515,42.43,1135,43.05,795,43.88,565,44.12,450,43.88,460,43.46,565,42.43,605,41.19,710,40.57,710,38.92,605,36.54,480,35.4,415,33.55,365,33.44,245,32.1,35,29.62,25,27.97,35,28.48,95,28.9,265,29.52,395,29.52,710,29.72,840,30.76,1030,31.58,1390,31.38,1815,30.96,2110,31.02,2320,30.76,2575,30.03,3210,29.62,4060,29.93,4695,29.1,5245,29,5500],
[38.81,5290,38.3,5075,37.47,4865,37.37,4485,37.37,3890,37.88,3340,38.15,2575,37.88,2195,37.82,1645,37.57,1515,37.99,1180,38.5,925,38.92,840,37.47,735,36.44,710,36.13,840,36.54,925,36.48,1095,36.75,1515,36.27,1815,35.61,2110,35.4,2320,34.17,2620,33.65,2915,33.24,3465,33.24,3890,32.72,4485,33.34,4695,33.24,5290,33.55,5500],
[35.86,690,34.89,565,31.89,435,31.17,460,31.17,520,31.58,710,32.41,765,34.17,735,35.86,690],
[31.07,35,29.62,35,30.14,120,30.34,265,31.07,395,31.69,350,32.04,225,31.79,140,31.07,35],
[24.45,110,26.31,210,26.79,365,26.52,585,25.9,775,25.8,925,26.31,1350,26.38,1940,26.21,2705,25.8,3295,25.59,3890,25.69,4485,25.07,5075,25.07,5415,25.49,5690],
[36.07,5290,35.45,5500],
[35.95,5290,35.33,5500],
[31.17,5500,30.49,5700],
[28.48,5650,28.28,5700]
];

/* ---------- scales and layout ---------- */
const root = document.getElementById('chart');
const NS = root.namespaceURI;
const plots = document.getElementById('plots');
const WIDTH = 464, HEIGHT = 464;
function xScale(left, lat) { return left + 78 + (44 - lat) * 19.75; }
function yScale(top, depth) { return top + depth * 0.0787; }
function add(parent, tag, attrs) {
  const el = document.createElementNS(NS, tag);
  for (const k in attrs) el.setAttribute(k, attrs[k]);
  parent.appendChild(el);
  return el;
}
function pathOf(pts, left, top, closed) {
  let d = '';
  for (let i = 0; i < pts.length; i += 2) {
    d += (i ? 'L' : 'M') + xScale(left, pts[i]).toFixed(2) + ',' + yScale(top, pts[i + 1]).toFixed(2);
  }
  return closed ? d + 'Z' : d;
}
/* Smooth curve through the contour vertices, so isolines are not angular. */
function smoothOf(pts, left, top, closed) {
  const xs = [], ys = [];
  for (let i = 0; i < pts.length; i += 2) {
    xs.push(xScale(left, pts[i]));
    ys.push(yScale(top, pts[i + 1]));
  }
  const n = xs.length, k = 7;
  if (n < 3) return pathOf(pts, left, top, closed);
  function at(arr, i) {
    if (closed) return arr[(i + n) % n];
    return arr[Math.max(0, Math.min(n - 1, i))];
  }
  let d = 'M' + xs[0].toFixed(2) + ',' + ys[0].toFixed(2);
  const segs = closed ? n : n - 1;
  for (let i = 0; i < segs; i++) {
    const c1x = at(xs, i) + (at(xs, i + 1) - at(xs, i - 1)) / k;
    const c1y = at(ys, i) + (at(ys, i + 1) - at(ys, i - 1)) / k;
    const c2x = at(xs, i + 1) - (at(xs, i + 2) - at(xs, i)) / k;
    const c2y = at(ys, i + 1) - (at(ys, i + 2) - at(ys, i)) / k;
    d += 'C' + c1x.toFixed(2) + ',' + c1y.toFixed(2) + ' ' + c2x.toFixed(2) + ',' + c2y.toFixed(2) + ' ' + at(xs, i + 1).toFixed(2) + ',' + at(ys, i + 1).toFixed(2);
  }
  return closed ? d + 'Z' : d;
}
function velocityColor(v) {
  const idx = Math.max(0, Math.min(21, Math.floor((v + 0.55) / 0.05 + 1e-6)));
  return velocityColors[idx];
}

/* ---------- filled bands from a gridded field ---------- */
function fieldValue(field, lat, depth) {
  let i = 0;
  while (i < fieldLats.length - 2 && lat < fieldLats[i + 1]) i++;
  let j = 0;
  while (j < fieldDepths.length - 2 && depth > fieldDepths[j + 1]) j++;
  const tx = Math.max(0, Math.min(1, (fieldLats[i] - lat) / (fieldLats[i] - fieldLats[i + 1])));
  const ty = Math.max(0, Math.min(1, (depth - fieldDepths[j]) / (fieldDepths[j + 1] - fieldDepths[j])));
  const a = field[j][i], b = field[j][i + 1], c = field[j + 1][i], e = field[j + 1][i + 1];
  return a * (1 - tx) * (1 - ty) + b * tx * (1 - ty) + c * (1 - tx) * ty + e * tx * ty;
}
function drawTracerBands(g, field, left, top) {
  const nx = 116, ny = 116, sx = WIDTH / nx, sy = HEIGHT / ny;
  const vals = [];
  for (let j = 0; j <= ny; j++) {
    const row = [];
    const depth = (j * sy) / 0.0787;
    for (let i = 0; i <= nx; i++) {
      const lat = 44 - (i * sx - 78) / 19.75;
      row.push(fieldValue(field, lat, depth));
    }
    vals.push(row);
  }
  const base = add(g, 'rect', {x: left, y: top, width: WIDTH, height: HEIGHT, fill: tracerColors[1]});
  
  
  for (let k = 1; k <= 20; k++) {
    const L = k * 5;
    let d = '';
    for (let j = 0; j < ny; j++) {
      const y0 = (top + j * sy).toFixed(2), y1 = (top + (j + 1) * sy).toFixed(2);
      let run = -1;
      for (let i = 0; i <= nx; i++) {
        const full = i < nx && vals[j][i] >= L && vals[j][i + 1] >= L && vals[j + 1][i] >= L && vals[j + 1][i + 1] >= L;
        if (full) { if (run < 0) run = i; continue; }
        if (run >= 0) {
          const xa = (left + run * sx).toFixed(2), xb = (left + i * sx).toFixed(2);
          d += 'M' + xa + ',' + y0 + 'L' + xb + ',' + y0 + 'L' + xb + ',' + y1 + 'L' + xa + ',' + y1 + 'Z';
          run = -1;
        }
        if (i === nx) continue;
        const cx = [left + i * sx, left + (i + 1) * sx, left + (i + 1) * sx, left + i * sx];
        const cy = [top + j * sy, top + j * sy, top + (j + 1) * sy, top + (j + 1) * sy];
        const cv = [vals[j][i], vals[j][i + 1], vals[j + 1][i + 1], vals[j + 1][i]];
        let poly = '';
        for (let n = 0; n < 4; n++) {
          const m = (n + 1) % 4;
          if (cv[n] >= L) poly += (poly ? 'L' : 'M') + cx[n].toFixed(2) + ',' + cy[n].toFixed(2);
          if ((cv[n] >= L) !== (cv[m] >= L)) {
            const t = (L - cv[n]) / (cv[m] - cv[n]);
            poly += (poly ? 'L' : 'M') + (cx[n] + t * (cx[m] - cx[n])).toFixed(2) + ',' + (cy[n] + t * (cy[m] - cy[n])).toFixed(2);
          }
        }
        if (poly) d += poly + 'Z';
      }
    }
    if (!d) continue;
    const band = add(g, 'path', {d: d, fill: tracerColors[k + 1]});
    
    
  }
}

/* ---------- land, axes ---------- */
function drawLand(g, left, top, topLat, topDep, stairLat, stairDep) {
  const pts = [48.2, topDep[0]];
  for (let i = 0; i < topLat.length; i++) {
    pts.push(topLat[i], topDep[i]);
    if (i + 1 < topLat.length) pts.push(topLat[i], topDep[i + 1]);
  }
  for (let i = 0; i < stairLat.length; i++) {
    pts.push(stairLat[i], stairDep[i]);
    if (i + 1 < stairLat.length) pts.push(stairLat[i + 1], stairDep[i]);
  }
  pts.push(24, 5950, 48.2, 5950);
  const land = add(g, 'path', {d: pathOf(pts, left, top, true), fill: '#bdbdbd'});
  
  
}
function drawAxes(parent, left, top) {
  const right = left + WIDTH, bottom = top + HEIGHT;
  function tick(x1, y1, x2, y2) {
    return add(parent, 'line', {x1: x1, y1: y1, x2: x2, y2: y2, stroke: '#000', 'stroke-width': 1.5});
  }
  latTicks.forEach(function (lat, i) {
    const x = xScale(left, lat);
    const t1 = tick(x, top, x, top - 12.5);
    
    
    const t2 = tick(x, bottom, x, bottom + 12.5);
    
    
    const lab = add(parent, 'text', {x: x, y: top + 512.4, 'font-size': 24, 'text-anchor': 'middle'});
    lab.textContent = latTickLabels[i];
    
    
  });
  latMinorTicks.forEach(function (lat) {
    const x = xScale(left, lat);
    const t1 = tick(x, top, x, top - 6.5);
    
    
    const t2 = tick(x, bottom, x, bottom + 6.5);
    
    
  });
  depthTicks.forEach(function (dep, i) {
    const y = yScale(top, dep);
    const t1 = tick(left, y, left - 13, y);
    
    
    const t2 = tick(right, y, right + 13, y);
    
    
    const lab = add(parent, 'text', {x: left - 29.5, y: y + 8.5, 'font-size': 24, 'text-anchor': 'end'});
    lab.textContent = depthTickLabels[i];
    
    
  });
  depthMinorTicks.forEach(function (dep) {
    const y = yScale(top, dep);
    const t1 = tick(left, y, left - 6.5, y);
    
    
    const t2 = tick(right, y, right + 6.5, y);
    
    
  });
  const frame = add(parent, 'rect', {x: left, y: top, width: WIDTH, height: HEIGHT, fill: 'none', stroke: '#000', 'stroke-width': 2});
  
  
}
function panelGroup(id, left, top) {
  const defs = add(plots, 'clipPath', {id: 'clip-' + id});
  add(defs, 'rect', {x: left, y: top, width: WIDTH, height: HEIGHT});
  const outer = add(plots, 'g', {});
  
  
  const inner = add(outer, 'g', {'clip-path': 'url(#clip-' + id + ')'});
  return {outer: outer, inner: inner};
}

/* ---------- velocity panel ---------- */
function drawVelocityPanel(id, left, top, pos, neg, bands, lines, over, topLat, topDep, stairLat, stairDep) {
  const p = panelGroup(id, left, top);
  const bg = add(p.inner, 'rect', {x: left, y: top, width: WIDTH, height: HEIGHT, fill: velocityColors[10]});
  
  
  pos.forEach(function (pts) {
    const el = add(p.inner, 'path', {d: smoothOf(pts, left, top, true), fill: velocityColors[11]});
    
    
  });
  neg.forEach(function (pts) {
    const el = add(p.inner, 'path', {d: smoothOf(pts, left, top, true), fill: velocityColors[10]});
    
    
  });
  bands.forEach(function (b) {
    const el = add(p.inner, 'path', {d: smoothOf(b[1], left, top, true), fill: velocityColor(b[0])});
    
    
  });
  pos.concat(neg).forEach(function (pts) {
    const el = add(p.inner, 'path', {d: smoothOf(pts, left, top, true), fill: 'none', stroke: '#000', 'stroke-width': 2.1, 'stroke-linejoin': 'round'});
    
    
  });
  lines.forEach(function (pts) {
    const el = add(p.inner, 'path', {d: smoothOf(pts, left, top, false), fill: 'none', stroke: '#000', 'stroke-width': 2.1, 'stroke-linejoin': 'round'});
    
    
  });
  drawLand(p.inner, left, top, topLat, topDep, stairLat, stairDep);
  over.forEach(function (pts) {
    const el = add(p.inner, 'path', {d: pathOf(pts, left, top, false), fill: 'none', stroke: '#000', 'stroke-width': 1.8, 'stroke-linejoin': 'round'});
    
    
  });
  drawAxes(p.outer, left, top);
}

/* ---------- tracer panel ---------- */
function drawTracerPanel(id, left, top, field, contours, topLat, topDep, stairLat, stairDep) {
  const p = panelGroup(id, left, top);
  drawTracerBands(p.inner, field, left, top);
  drawLand(p.inner, left, top, topLat, topDep, stairLat, stairDep);
  contours.forEach(function (pts) {
    const el = add(p.inner, 'path', {d: smoothOf(pts, left, top, false), fill: 'none', stroke: '#000', 'stroke-width': 2.1, 'stroke-linejoin': 'round'});
    
    
  });
  drawAxes(p.outer, left, top);
}

/* ---------- colour bars ---------- */
function drawColorBar(name, colors, values, labels, x, w, yTop, boxH, maxV) {
  const g = add(plots, 'g', {});
  
  
  const n = colors.length;
  for (let i = 0; i < n; i++) {
    const box = add(g, 'rect', {x: x, y: yTop + i * boxH, width: w, height: boxH, fill: colors[n - 1 - i], stroke: '#000', 'stroke-opacity': 0.45, 'stroke-width': 1});
    
    
  }
  values.forEach(function (v, i) {
    const y = yTop + ((maxV - v) / 0.05) * boxH;
    const t = add(g, 'text', {x: 2005, y: y + 8.5, 'font-size': 24, 'text-anchor': 'middle'});
    t.textContent = labels[i];
    
    
  });
}

/* ---------- build the figure ---------- */
const rowTop1 = 119.6, rowTop2 = 893.7;
const colLeft = [154, 801.8, 1450];
drawVelocityPanel('a', colLeft[0], rowTop1, zeroPosA, zeroNegA, bandsA, linesA, overA, landTopLatAD, landTopDepAD, landLatAD, landDepAD);
drawVelocityPanel('b', colLeft[1], rowTop1, zeroPosB, zeroNegB, bandsB, linesB, overB, landTopLatOther, landTopDepOther, landLatOther, landDepOther);
drawVelocityPanel('c', colLeft[2], rowTop1, zeroPosC, zeroNegC, bandsC, linesC, overC, landTopLatOther, landTopDepOther, landLatOther, landDepOther);
drawTracerPanel('d', colLeft[0], rowTop2, fieldD, contoursD, landTopLatAD, landTopDepAD, landLatAD, landDepAD);
drawTracerPanel('e', colLeft[1], rowTop2, fieldE, contoursE, landTopLatOther, landTopDepOther, landLatOther, landDepOther);
drawTracerPanel('f', colLeft[2], rowTop2, fieldF, contoursF, landTopLatOther, landTopDepOther, landLatOther, landDepOther);
drawColorBar('velocity-colorbar', velocityColors, velocityBarValues, velocityBarLabels, 1947.7, 28, 124, 20.73, 0.55);
drawColorBar('tracer-colorbar', tracerColors, tracerBarValues, tracerBarLabels, 1952.3, 27.4, 898.3, 20.68, 1.05);
</script>
</body>
</html>
